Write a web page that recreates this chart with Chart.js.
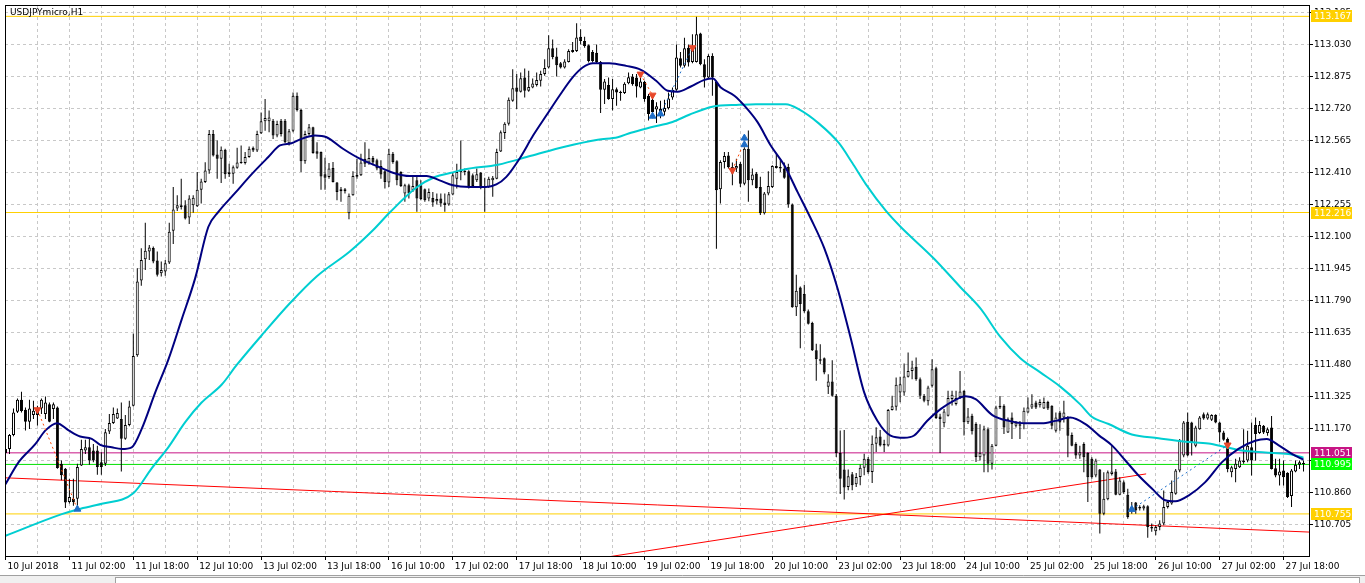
<!DOCTYPE html>
<html>
<head>
<meta charset="utf-8">
<title>USDJPYmicro,H1</title>
<script src="https://cdn.jsdelivr.net/npm/chart.js"></script>
<style>
	html, body { margin: 0; padding: 0; background: #fff; overflow: hidden; }
	#wrap { width: 1365px; height: 583px; }
</style>
</head>
<body>
<div id="wrap"><canvas id="chart" width="1365" height="583"></canvas></div>
<script>
	const symbolTitle = 'USDJPYmicro,H1';

	// one label every 16 hourly bars
	const xTickLabels = ['10 Jul 2018', '11 Jul 02:00', '11 Jul 18:00', '12 Jul 10:00', '13 Jul 02:00', '13 Jul 18:00',
		'16 Jul 10:00', '17 Jul 02:00', '17 Jul 18:00', '18 Jul 10:00', '19 Jul 02:00', '19 Jul 18:00', '20 Jul 10:00',
		'23 Jul 02:00', '23 Jul 18:00', '24 Jul 10:00', '25 Jul 02:00', '25 Jul 18:00', '26 Jul 10:00', '27 Jul 02:00',
		'27 Jul 18:00'];

	const yTicks = [110.705, 110.860, 111.015, 111.170, 111.325, 111.480, 111.635, 111.790, 111.945,
		112.100, 112.255, 112.410, 112.565, 112.720, 112.875, 113.030, 113.185];

	const opens = [
		111.050,111.070,111.138,111.250,111.308,111.260,111.202,111.234,111.234,111.266,
		111.239,111.287,111.263,111.271,110.998,110.974,110.813,110.829,110.829,110.990,
		111.062,111.078,111.062,111.062,111.006,110.998,111.154,111.196,111.218,111.215,
		111.119,111.186,111.279,111.524,111.887,111.990,112.027,112.044,111.983,111.922,
		111.930,111.974,112.128,112.235,112.243,112.251,112.192,112.251,112.247,112.327,
		112.364,112.420,112.597,112.497,112.477,112.520,112.401,112.404,112.433,112.456,
		112.456,112.485,112.530,112.517,112.600,112.658,112.658,112.661,112.589,112.661,
		112.661,112.552,112.613,112.782,112.713,112.465,112.597,112.629,112.513,112.509,
		112.401,112.388,112.432,112.361,112.319,112.329,112.212,112.300,112.389,112.397,
		112.477,112.458,112.480,112.469,112.442,112.416,112.361,112.501,112.464,112.413,
		112.308,112.348,112.324,112.372,112.348,112.329,112.284,112.287,112.271,112.284,
		112.265,112.255,112.303,112.380,112.413,112.413,112.416,112.397,112.372,112.409,
		112.345,112.340,112.372,112.380,112.512,112.602,112.646,112.758,112.822,112.802,
		112.871,112.806,112.822,112.834,112.855,112.887,112.919,113.012,112.972,112.940,
		112.919,112.946,112.994,112.999,113.068,113.047,113.027,112.994,112.991,112.946,
		112.811,112.834,112.766,112.814,112.795,112.795,112.843,112.875,112.871,112.822,
		112.850,112.782,112.763,112.715,112.702,112.705,112.721,112.774,112.811,112.964,
		112.927,113.015,112.946,112.946,113.084,112.935,112.871,112.975,112.850,112.329,
		112.461,112.493,112.437,112.429,112.453,112.356,112.525,112.372,112.405,112.340,
		112.212,112.308,112.340,112.432,112.437,112.429,112.437,112.255,111.757,111.853,
		111.821,111.738,111.681,111.548,111.505,111.509,111.371,111.397,111.328,111.050,
		110.970,110.886,110.947,110.899,110.934,110.979,111.023,110.958,111.095,111.130,
		111.095,111.087,111.259,111.275,111.344,111.344,111.420,111.448,111.468,111.408,
		111.328,111.301,111.376,111.461,111.227,111.195,111.231,111.312,111.288,111.320,
		111.352,111.199,111.231,111.191,111.030,111.038,111.166,110.998,111.086,111.271,
		111.279,111.150,111.222,111.182,111.190,111.190,111.247,111.271,111.295,111.282,
		111.266,111.298,111.279,111.158,111.247,111.222,111.222,111.137,111.094,111.038,
		111.094,111.051,111.022,110.941,110.970,110.756,110.826,110.949,110.961,110.848,
		110.909,110.848,110.772,110.810,110.781,110.781,110.792,110.692,110.671,110.692,
		110.708,110.789,110.805,110.853,110.965,111.038,111.202,111.198,111.086,111.166,
		111.238,111.218,111.211,111.234,111.198,111.150,111.118,110.957,110.973,110.981,
		111.014,111.014,111.078,111.186,111.147,111.182,111.147,111.174,110.976,110.941,
		110.965,110.954,110.842,110.961,110.993,110.996
	];

	const highs = [
		111.100,111.143,111.266,111.315,111.347,111.271,111.308,111.303,111.279,111.315,
		111.324,111.295,111.295,111.276,111.014,110.977,110.926,110.926,110.998,111.115,
		111.115,111.119,111.094,111.086,111.054,111.167,111.239,111.271,111.266,111.295,
		111.234,111.303,111.630,111.946,112.043,112.166,112.059,112.051,112.027,111.978,
		111.986,112.166,112.340,112.300,112.380,112.276,112.300,112.300,112.412,112.380,
		112.460,112.616,112.616,112.565,112.536,112.525,112.452,112.444,112.530,112.541,
		112.509,112.536,112.536,112.613,112.701,112.766,112.710,112.669,112.661,112.669,
		112.669,112.621,112.798,112.798,112.718,112.613,112.645,112.632,112.557,112.512,
		112.481,112.456,112.461,112.364,112.340,112.335,112.308,112.416,112.477,112.501,
		112.557,112.525,112.490,112.477,112.469,112.421,112.525,112.509,112.469,112.416,
		112.356,112.356,112.389,112.397,112.372,112.332,112.332,112.316,112.308,112.308,
		112.308,112.316,112.413,112.453,112.565,112.429,112.421,112.405,112.429,112.413,
		112.384,112.389,112.393,112.525,112.614,112.654,112.774,112.911,112.887,112.895,
		112.914,112.903,112.866,112.895,112.903,112.959,113.075,113.055,113.015,112.946,
		112.959,113.007,113.043,113.133,113.104,113.068,113.031,113.004,113.031,112.951,
		112.863,112.871,112.863,112.822,112.806,112.847,112.895,112.887,112.887,112.871,
		112.855,112.790,112.782,112.750,112.758,112.763,112.798,112.822,113.031,112.994,
		113.063,113.031,113.080,113.165,113.088,112.959,112.983,112.988,112.855,112.469,
		112.509,112.509,112.458,112.477,112.461,112.533,112.614,112.429,112.413,112.389,
		112.316,112.416,112.445,112.501,112.477,112.458,112.453,112.260,111.914,111.858,
		111.866,111.746,111.686,111.580,111.577,111.513,111.432,111.500,111.336,111.159,
		111.162,110.970,110.958,110.953,110.995,111.047,111.031,111.135,111.175,111.162,
		111.114,111.264,111.328,111.416,111.420,111.484,111.537,111.497,111.513,111.416,
		111.336,111.376,111.505,111.468,111.240,111.264,111.352,111.352,111.352,111.448,
		111.355,111.268,111.240,111.199,111.190,111.182,111.174,111.094,111.279,111.327,
		111.287,111.222,111.247,111.206,111.206,111.271,111.319,111.335,111.303,111.311,
		111.319,111.303,111.282,111.247,111.255,111.303,111.230,111.150,111.102,111.086,
		111.102,111.054,111.030,111.022,110.973,110.957,110.965,111.086,110.973,110.933,
		110.917,110.877,110.813,110.813,110.797,110.800,110.797,110.708,110.700,110.724,
		110.869,110.821,110.917,110.973,111.118,111.206,111.247,111.202,111.182,111.230,
		111.247,111.247,111.238,111.238,111.202,111.158,111.126,110.989,111.022,111.030,
		111.166,111.158,111.198,111.222,111.206,111.186,111.174,111.230,111.022,111.022,
		111.014,110.957,110.973,111.014,111.014,111.014
	];

	const lows = [
		111.030,111.046,111.131,111.244,111.247,111.159,111.167,111.215,111.183,111.239,
		111.215,111.199,111.215,110.974,110.918,110.784,110.805,110.794,110.794,110.987,
		111.046,110.993,111.006,110.945,110.945,110.987,111.143,111.191,111.215,110.961,
		111.115,111.180,111.276,111.517,111.861,111.938,111.986,111.970,111.906,111.906,
		111.909,111.967,112.063,112.224,112.231,112.182,112.160,112.215,112.243,112.260,
		112.359,112.404,112.488,112.380,112.359,112.380,112.388,112.356,112.428,112.452,
		112.449,112.481,112.509,112.509,112.597,112.613,112.605,112.573,112.581,112.584,
		112.552,112.541,112.605,112.706,112.412,112.452,112.589,112.501,112.477,112.327,
		112.327,112.380,112.361,112.276,112.268,112.308,112.184,112.297,112.380,112.393,
		112.437,112.448,112.445,112.421,112.380,112.332,112.340,112.453,112.348,112.340,
		112.268,112.284,112.316,112.220,112.276,112.268,112.271,112.244,112.255,112.244,
		112.220,112.249,112.300,112.332,112.372,112.397,112.332,112.335,112.364,112.329,
		112.220,112.335,112.292,112.377,112.509,112.573,112.638,112.753,112.718,112.798,
		112.774,112.802,112.818,112.827,112.827,112.879,112.914,112.959,112.875,112.914,
		112.914,112.943,112.991,112.994,113.031,113.015,112.943,112.943,112.940,112.699,
		112.742,112.763,112.710,112.734,112.758,112.790,112.838,112.830,112.774,112.818,
		112.753,112.662,112.673,112.650,112.673,112.686,112.715,112.763,112.806,112.919,
		112.919,112.924,112.940,112.943,112.930,112.822,112.866,112.782,112.040,112.260,
		112.429,112.429,112.348,112.413,112.340,112.348,112.268,112.348,112.332,112.204,
		112.207,112.300,112.335,112.429,112.413,112.380,112.239,111.754,111.714,111.558,
		111.730,111.673,111.545,111.400,111.481,111.432,111.336,111.323,111.031,110.851,
		110.825,110.870,110.870,110.886,110.894,110.942,110.950,110.905,111.055,111.082,
		111.055,111.082,111.256,111.256,111.296,111.328,111.416,111.408,111.400,111.312,
		111.296,111.280,111.368,111.215,111.050,111.175,111.227,111.280,111.280,111.312,
		111.135,111.191,111.140,111.007,111.014,110.957,110.957,110.970,111.083,111.263,
		111.142,111.147,111.118,111.174,111.118,111.166,111.243,111.263,111.263,111.271,
		111.263,111.259,111.166,111.150,111.158,111.198,111.030,111.083,111.022,111.022,
		110.957,110.813,110.925,110.933,110.660,110.748,110.821,110.941,110.845,110.845,
		110.853,110.732,110.756,110.756,110.772,110.772,110.639,110.668,110.652,110.676,
		110.700,110.781,110.800,110.848,110.957,111.030,111.034,111.038,111.078,111.163,
		111.211,111.211,111.206,111.195,111.102,111.110,110.957,110.933,110.909,110.977,
		110.998,111.006,110.941,111.014,111.142,111.142,111.134,110.970,110.933,110.893,
		110.893,110.832,110.789,110.957,110.973,110.961
	];

	const closes = [
		111.070,111.138,111.247,111.308,111.254,111.202,111.266,111.255,111.266,111.308,
		111.295,111.202,111.287,110.977,110.942,110.810,110.837,110.813,110.982,111.070,
		111.078,111.014,111.014,110.982,110.982,111.151,111.196,111.239,111.244,111.119,
		111.186,111.276,111.520,111.882,111.986,112.031,112.047,111.978,111.914,111.938,
		111.970,112.123,112.231,112.251,112.251,112.187,112.284,112.288,112.327,112.366,
		112.420,112.597,112.493,112.477,112.520,112.401,112.411,112.436,112.459,112.462,
		112.485,112.525,112.517,112.597,112.658,112.674,112.677,112.589,112.645,112.597,
		112.557,112.610,112.782,112.713,112.465,112.597,112.629,112.504,112.501,112.391,
		112.385,112.430,112.364,112.316,112.329,112.319,112.297,112.393,112.398,112.458,
		112.453,112.480,112.458,112.429,112.400,112.364,112.501,112.461,112.372,112.345,
		112.348,112.308,112.345,112.284,112.281,112.276,112.316,112.265,112.281,112.260,
		112.252,112.305,112.397,112.413,112.425,112.419,112.340,112.345,112.401,112.335,
		112.335,112.380,112.384,112.509,112.605,112.646,112.763,112.818,112.802,112.867,
		112.806,112.824,112.842,112.859,112.888,112.916,113.012,112.970,112.930,112.919,
		112.948,112.999,113.004,113.065,113.047,113.023,112.951,112.951,112.946,112.811,
		112.851,112.766,112.814,112.798,112.802,112.840,112.872,112.838,112.827,112.851,
		112.766,112.694,112.702,112.731,112.718,112.723,112.769,112.811,112.967,112.927,
		113.012,112.943,113.015,113.080,112.935,112.871,112.975,112.871,112.324,112.461,
		112.490,112.437,112.405,112.442,112.356,112.525,112.372,112.400,112.335,112.212,
		112.308,112.345,112.442,112.442,112.429,112.384,112.255,111.757,111.837,111.773,
		111.738,111.677,111.548,111.505,111.497,111.440,111.397,111.328,111.050,110.926,
		110.883,110.937,110.894,110.934,110.979,111.023,110.958,111.095,111.127,111.087,
		111.087,111.259,111.277,111.381,111.384,111.421,111.448,111.465,111.408,111.328,
		111.304,111.368,111.456,111.220,111.215,111.252,111.317,111.333,111.317,111.349,
		111.199,111.227,111.156,111.031,111.051,111.166,110.998,111.086,111.271,111.279,
		111.174,111.214,111.190,111.198,111.182,111.255,111.271,111.287,111.271,111.298,
		111.298,111.266,111.182,111.222,111.198,111.247,111.134,111.086,111.038,111.054,
		111.030,110.933,110.933,111.014,110.756,110.829,110.957,110.961,110.848,110.917,
		110.861,110.740,110.789,110.772,110.789,110.792,110.692,110.684,110.692,110.708,
		110.789,110.813,110.861,110.965,111.110,111.198,111.038,111.102,111.174,111.222,
		111.218,111.238,111.234,111.198,111.150,111.115,110.973,110.981,110.998,111.014,
		111.006,111.086,111.014,111.142,111.186,111.150,111.166,110.973,110.941,110.961,
		110.933,110.837,110.965,110.993,111.006,111.002
	];

	// moving averages: [bar index, price]
	const fastMa = [[0,110.899],[3.3,111.006],[7.5,111.094],[10,111.160],[12.9,111.195],[15.8,111.160],[18.7,111.130],
		[21.6,111.119],[23.7,111.090],[26.6,111.078],[29.1,111.070],[31.6,111.078],[34.1,111.167],[37.5,111.344],
		[40.8,111.504],[44.1,111.697],[47.5,111.898],[50.8,112.147],[53.3,112.219],[57.5,112.311],[61.6,112.401],
		[65.8,112.485],[68.7,112.541],[71.6,112.552],[74.1,112.573],[77.5,112.589],[80.4,112.581],[84.5,112.525],
		[88.7,112.477],[92.9,112.442],[97,112.409],[101.2,112.393],[105.4,112.393],[108.7,112.372],[112,112.348],
		[116.2,112.340],[120.3,112.340],[122.9,112.352],[125.4,112.389],[128.7,112.477],[132.1,112.589],
		[135.4,112.686],[138.7,112.782],[142,112.871],[144.5,112.919],[147.1,112.940],[151.2,112.940],
		[155.4,112.927],[159.1,112.908],[162.9,112.855],[165.8,112.806],[168.3,112.802],[171.6,112.827],
		[175,112.859],[177.1,112.866],[179.1,112.822],[182.5,112.782],[185,112.734],[188.3,112.654],
		[191.6,112.541],[195,112.445],[198.3,112.316],[201.6,112.188],[205,112.043],[208.3,111.850],
		[211.6,111.609],[215,111.344],[218.3,111.207],[221.6,111.135],[225,111.124],[227.5,111.135],
		[230.8,111.207],[234.2,111.264],[237.5,111.304],[240.4,111.325],[242.9,111.311],[247.1,111.234],
		[251.2,111.206],[255.4,111.194],[259.5,111.194],[262.9,111.206],[266.6,111.222],[270.4,111.190],
		[273.7,111.137],[277.1,111.086],[280.4,111.014],[283.7,110.941],[287.1,110.877],[290.4,110.821],
		[292.9,110.816],[296.3,110.845],[300.4,110.909],[304.6,111.006],[308.7,111.070],[312.9,111.110],
		[315.8,111.118],[318.7,111.089],[322.1,111.046],[325,111.018]];

	const slowMa = [[0,110.649],[14.1,110.754],[18.3,110.778],[24.1,110.804],[32,110.855],[36.6,110.976],
		[40.8,111.079],[45,111.200],[49.1,111.295],[54.1,111.381],[57.9,111.477],[64.6,111.631],[71.2,111.776],
		[77.9,111.906],[86.2,112.027],[92,112.130],[96.2,112.216],[102.9,112.337],[107.5,112.388],[111.6,112.409],
		[115.1,112.426],[123.3,112.448],[131.6,112.491],[140,112.535],[148.3,112.569],[153.3,112.581],
		[156.6,112.603],[161.6,112.629],[167,112.655],[171.2,112.690],[177,112.729],[183.7,112.738],
		[187.9,112.741],[195.4,112.741],[198.7,112.716],[203.7,112.647],[208.7,112.552],[212,112.457],
		[215.4,112.354],[220.4,112.225],[224.1,112.147],[232.5,111.992],[239.1,111.854],[244.1,111.751],
		[249.1,111.613],[254.1,111.510],[259.1,111.441],[264.1,111.372],[269.1,111.286],[272,111.226],
		[276.2,111.191],[282,111.140],[288.7,111.122],[295.4,111.105],[301.2,111.096],[305.4,111.079],
		[309.6,111.062],[315.4,111.053],[321.2,111.045],[325,111.028]];

	const levels = [113.167, 112.216, 111.051, 110.995, 110.755];
	const levelColors = ['#FFD000', '#FFD000', '#C71585', '#00E000', '#FFD000'];
	const tagColors = ['#FFD000', '#FFD000', '#C71585', '#00FF00', '#FFD000'];

	const trendDown = [[0, 110.930], [326.4, 110.667]];
	const trendUp = [[150, 110.544], [285.6, 110.949]];

	const buyArrows = [[18, 110.778], [162, 112.683], [164, 112.694], [185, 112.577], [185, 112.545], [282, 110.777]];
	const sellArrows = [[8, 111.260], [159, 112.887], [162, 112.785], [172, 113.015], [182, 112.421], [306, 111.089]];
	const sellTrades = [[[8, 111.260], [18, 110.778]], [[159, 112.887], [162, 112.785]], [[182, 112.421], [185, 112.560]]];
	const buyTrades = [[[164, 112.694], [172, 113.015]], [[282, 110.777], [306, 111.089]]];

	const xMin = -0.125;
	const xMax = 326.375;

	function pts(list) {
		return list.map(p => ({x: p[0], y: p[1]}));
	}

	const datasets = [];

	levels.forEach((v, i) => {
		datasets.push({
			type: 'line', order: 10,
			data: [{x: xMin, y: v}, {x: xMax, y: v}],
			borderColor: levelColors[i], borderWidth: 1, pointRadius: 0
		});
	});

	[trendDown, trendUp].forEach(t => {
		datasets.push({
			type: 'line', order: 9,
			data: pts(t),
			borderColor: '#FF0000', borderWidth: 1, pointRadius: 0
		});
	});

	datasets.push({
		type: 'bar', order: 8,
		data: highs.map((h, i) => ({x: i, y: [lows[i], h]})),
		backgroundColor: '#000', borderWidth: 0, barThickness: 1,
		grouped: false, inflateAmount: 0, borderSkipped: false
	});

	datasets.push({
		type: 'bar', order: 7,
		data: opens.map((o, i) => ({x: i, y: [o, closes[i]]})),
		backgroundColor: opens.map((o, i) => closes[i] >= o ? '#fff' : '#000'),
		borderColor: '#000', borderWidth: 1, barThickness: 3,
		grouped: false, inflateAmount: 0, borderSkipped: false
	});

	datasets.push({
		type: 'line', order: 5,
		data: pts(slowMa),
		borderColor: '#00CED1', borderWidth: 2, pointRadius: 0, cubicInterpolationMode: 'monotone'
	});

	datasets.push({
		type: 'line', order: 4,
		data: pts(fastMa),
		borderColor: '#000080', borderWidth: 2, pointRadius: 0, cubicInterpolationMode: 'monotone'
	});

	sellTrades.forEach(t => {
		datasets.push({
			type: 'line', order: 3, data: pts(t),
			borderColor: '#FF4500', borderWidth: 1, borderDash: [2, 3], pointRadius: 0
		});
	});
	buyTrades.forEach(t => {
		datasets.push({
			type: 'line', order: 3, data: pts(t),
			borderColor: '#1E6EC8', borderWidth: 1, borderDash: [2, 3], pointRadius: 0
		});
	});

	datasets.push({
		type: 'line', order: 2, showLine: false, data: pts(buyArrows),
		pointStyle: 'triangle', pointRadius: 4, pointRotation: 0,
		pointBackgroundColor: '#1E6EC8', pointBorderColor: '#1E6EC8', pointBorderWidth: 1
	});
	datasets.push({
		type: 'line', order: 2, showLine: false, data: pts(sellArrows),
		pointStyle: 'triangle', pointRadius: 4, pointRotation: 180,
		pointBackgroundColor: '#E8472A', pointBorderColor: '#E8472A', pointBorderWidth: 1
	});

	const framePlugin = {
		id: 'frame',
		afterDraw(chart) {
			const {ctx, chartArea: a, scales} = chart;
			ctx.save();

			// plot frame
			ctx.strokeStyle = '#000';
			ctx.lineWidth = 1;
			ctx.strokeRect(Math.floor(a.left) + 0.5, Math.floor(a.top) + 0.5,
				Math.round(a.right - a.left), Math.round(a.bottom - a.top));

			// symbol title
			ctx.fillStyle = '#000';
			ctx.font = '9px "DejaVu Sans"';
			ctx.textBaseline = 'top';
			ctx.textAlign = 'left';
			ctx.fillText(symbolTitle, a.left + 5, a.top + 3);

			// price tags on the right axis
			ctx.textBaseline = 'middle';
			levels.forEach((v, i) => {
				const y = Math.round(scales.y.getPixelForValue(v));
				ctx.fillStyle = tagColors[i];
				ctx.fillRect(a.right + 2, y - 6, 41, 12);
				ctx.fillStyle = '#fff';
				ctx.fillText(v.toFixed(3), a.right + 5, y + 0.5);
			});

			// tab strip under the chart
			const w = chart.width, h = chart.height;
			ctx.fillStyle = '#f0f0f0';
			ctx.fillRect(0, h - 8, w, 8);
			ctx.strokeStyle = '#a0a0a0';
			ctx.beginPath();
			ctx.moveTo(0, h - 7.5);
			ctx.lineTo(w, h - 7.5);
			ctx.stroke();
			ctx.fillStyle = '#fff';
			ctx.fillRect(115, h - 6, w - 120, 6);
			ctx.strokeRect(115.5, h - 5.5, w - 121, 6);
			ctx.restore();
		}
	};

	new Chart(document.getElementById('chart').getContext('2d'), {
		type: 'bar',
		data: {datasets: datasets},
		options: {
			responsive: false,
			animation: false,
			devicePixelRatio: 1,
			events: [],
			layout: {padding: {left: 3, top: 2, right: 0, bottom: 0}},
			plugins: {legend: {display: false}, tooltip: {enabled: false}},
			scales: {
				x: {
					type: 'linear',
					min: xMin,
					max: xMax,
					offset: false,
					afterBuildTicks: scale => {
						const t = [];
						for (let v = 0; v <= 320; v += 8) {
							t.push({value: v});
						}
						scale.ticks = t;
					},
					afterFit: scale => {
						scale.height = 27;
						scale.paddingLeft = 0;
						scale.paddingRight = 0;
					},
					grid: {
						offset: false,
						color: '#c8c8c8',
						tickColor: c => (c.tick && c.tick.value % 16 === 0) ? '#000' : 'rgba(0,0,0,0)',
						tickLength: 4,
						tickBorderDash: []
					},
					border: {display: true, color: '#000', dash: [3, 3]},
					ticks: {
						autoSkip: false,
						maxRotation: 0,
						minRotation: 0,
						align: 'start',
						labelOffset: 2,
						padding: 1,
						color: '#000',
						font: {family: 'DejaVu Sans', size: 9},
						callback: v => (v % 16 === 0 ? xTickLabels[v / 16] : '')
					}
				},
				y: {
					type: 'linear',
					position: 'right',
					min: 110.551,
					max: 113.222,
					afterBuildTicks: scale => {
						scale.ticks = yTicks.map(v => ({value: v}));
					},
					afterFit: scale => {
						scale.width = 56;
						scale.paddingTop = 0;
						scale.paddingBottom = 0;
					},
					grid: {
						color: '#c8c8c8',
						tickColor: '#000',
						tickLength: 4,
						tickBorderDash: []
					},
					border: {display: true, color: '#000', dash: [3, 3]},
					ticks: {
						padding: 1,
						color: '#000',
						font: {family: 'DejaVu Sans', size: 9},
						callback: v => v.toFixed(3)
					}
				}
			}
		},
		plugins: [framePlugin]
	});
</script>
</body>
</html>
